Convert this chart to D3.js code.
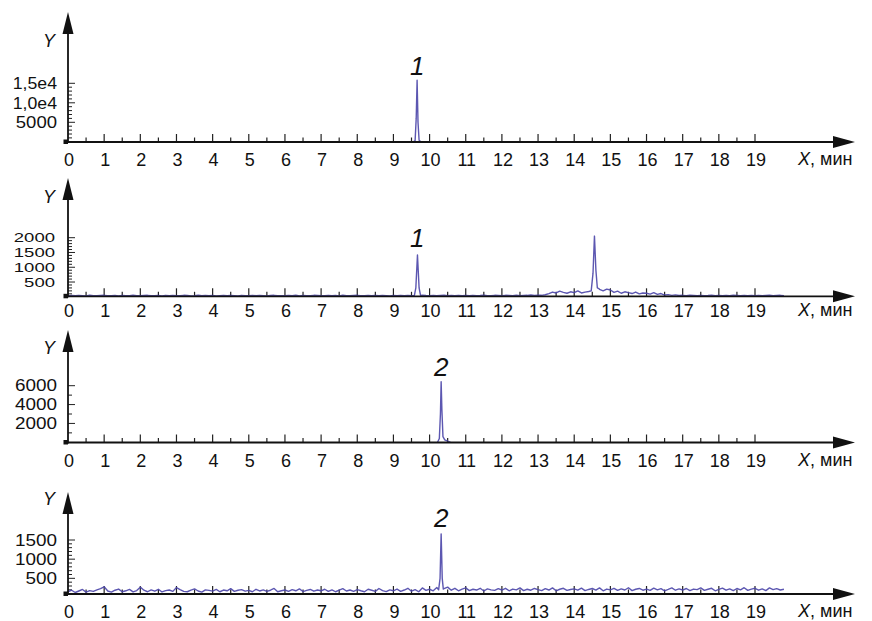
<!DOCTYPE html>
<html>
<head>
<meta charset="utf-8">
<script src="https://cdn.jsdelivr.net/npm/d3@7/dist/d3.min.js"></script>
<style>
html,body{margin:0;padding:0;background:#fff;}
svg{display:block;font-family:"Liberation Sans",Arial,sans-serif;}
</style>
</head>
<body>
<svg id="chart" width="872" height="621"></svg>
<script>
// ---------------- DATA ----------------
const xTickValues = [0,1,2,3,4,5,6,7,8,9,10,11,12,13,14,15,16,17,18,19];
const xAxisTitle = ", мин";
const xAxisTitleItalic = "X";
const yAxisTitle = "Y";

const p1TickValues = [5000, 10000, 15000];
const p1TickLabels = ["5000", "1,0e4", "1,5e4"];
const p2TickValues = [500, 1000, 1500, 2000];
const p2TickLabels = ["500", "1000", "1500", "2000"];
const p3TickValues = [2000, 4000, 6000];
const p3TickLabels = ["2000", "4000", "6000"];
const p4TickValues = [500, 1000, 1500];
const p4TickLabels = ["500", "1000", "1500"];

const peakLabels = ["1", "1", "2", "2"];
const peakTimes = [9.66, 9.66, 10.32, 10.32];

// sampled noise (one value per 0.1 min)
const sampleStep = 0.1;
const p2Noise = [
 30,45,35,50,40,30,55,40,35,45,
 50,35,40,45,30,50,40,35,55,40,
 35,45,50,40,35,45,30,50,40,45,
 40,35,50,45,30,40,55,35,45,40,
 45,30,40,50,35,45,40,30,50,35,
 40,50,35,45,40,30,45,50,35,40,
 35,45,40,55,30,45,40,35,50,45,
 40,35,50,40,45,30,55,40,35,45,
 50,40,35,45,40,50,35,45,40,30,
 45,40,50,35,45,40,50,60,55,45,
 40,50,35,45,55,40,45,35,50,40,
 45,35,50,40,45,55,35,40,50,45,
 40,50,45,35,55,40,45,50,60,45,
 55,50,70,110,160,130,190,150,120,170,
 140,200,130,160,180,300,300,250,200,260,
 230,150,190,120,170,140,110,160,100,130,
 120,90,140,80,110,60,75,50,65,45,
 50,40,55,45,35,50,40,45,55,40,
 45,35,50,40,55,45,35,50,40,45,
 40,50,35,45,55,40,45,50,35
];
const p4Noise = [
 150,190,130,170,210,140,180,160,200,230,
 280,170,140,190,220,150,175,210,145,180,
 270,190,150,200,165,215,145,180,195,160,
 260,205,160,150,190,225,170,140,200,185,
 165,210,150,195,175,230,160,190,205,165,
 185,150,215,170,200,160,190,235,150,175,
 195,160,205,175,225,155,185,210,165,195,
 175,215,160,200,150,190,230,170,195,160,
 205,175,150,215,190,160,235,180,155,200,
 175,220,160,195,240,165,205,150,250,185,
 215,175,260,200,230,270,190,240,175,220,
 250,180,215,195,240,170,225,200,185,230,
 195,240,175,220,200,250,180,215,190,235,
 205,180,230,195,250,175,215,240,185,210,
 225,190,245,180,210,235,195,250,175,220,
 200,240,185,225,195,255,180,215,235,190,
 220,185,245,200,230,175,210,250,190,225,
 195,235,180,220,205,250,185,215,240,175,
 210,245,190,225,180,235,200,255,185,220,
 240,190,225,180,250,205,230,195,215
];

// peaks as [time, value]
const p1Peak = [[9.55,0],[9.60,300],[9.63,6000],[9.655,15800],[9.68,5000],[9.71,400],[9.76,0]];
const p2Peak1 = [[9.58,50],[9.62,300],[9.665,1415],[9.71,300],[9.75,50]];
const p2Peak2 = [[14.47,200],[14.52,800],[14.56,2055],[14.60,900],[14.64,300],[14.68,280]];
const p3Peak = [[10.22,0],[10.27,400],[10.30,3000],[10.32,6420],[10.34,3500],[10.37,600],[10.42,250],[10.50,120],[10.58,0]];
const p4Peak = [[10.25,200],[10.29,500],[10.32,1660],[10.35,500],[10.38,220]];

// ---------------- LAYOUT ----------------
const svg = d3.select("#chart");
const x = d3.scaleLinear().domain([0, 19]).range([68, 755]);
const axisX0 = 68, arrowTipX = 855;
const traceColor = "#4a45a8";

function mergeSeries(noise, peaks) {
  let pts = noise ? noise.map((v, i) => [+(i * sampleStep).toFixed(2), v]) : [];
  peaks.forEach(pk => {
    const a = pk[0][0], b = pk[pk.length - 1][0];
    pts = pts.filter(p => p[0] < a || p[0] > b).concat(pk);
  });
  return pts.sort((p, q) => p[0] - q[0]);
}

const panels = [
  {axisY:142, tipY:12, zeroPx:141.8, refVal:15000, refPx:83.3, ticks:p1TickValues, labels:p1TickLabels,
   minorStep:1000, minorMax:15000, majorEvery:5000, yLabelBase:47, xLabelBase:166, peakBase:75,
   series:[mergeSeries(null, [p1Peak])], labelX:57, yFont:16, charW:10.3},
  {axisY:296.3, tipY:178, zeroPx:296.8, refVal:2000, refPx:237.7, ticks:p2TickValues, labels:p2TickLabels,
   minorStep:100, minorMax:2000, majorEvery:500, yLabelBase:203, xLabelBase:317, peakBase:247,
   series:[mergeSeries(p2Noise, [p2Peak1, p2Peak2])], labelX:55, yFont:13, charW:10.3},
  {axisY:442.5, tipY:330, zeroPx:442.3, refVal:6000, refPx:385.7, ticks:p3TickValues, labels:p3TickLabels,
   minorStep:1000, minorMax:6000, majorEvery:2000, yLabelBase:354, xLabelBase:467, peakBase:376,
   series:[mergeSeries(null, [p3Peak])], labelX:57, yFont:16, charW:10.5},
  {axisY:594, tipY:492, zeroPx:597.5, refVal:1500, refPx:540, ticks:p4TickValues, labels:p4TickLabels,
   minorStep:100, minorMax:1500, majorEvery:500, yLabelBase:505, xLabelBase:618, peakBase:527,
   series:[mergeSeries(p4Noise, [p4Peak])], labelX:57, yFont:16, charW:10.5}
];

panels.forEach((P, pi) => {
  const y = d3.scaleLinear().domain([0, P.refVal]).range([P.zeroPx, P.refPx]);
  const g = svg.append("g");

  // y minor / major ticks
  const minor = d3.range(P.minorStep, P.minorMax + 1, P.minorStep);
  g.selectAll(".ymin").data(minor).join("line")
    .attr("x1", axisX0).attr("x2", d => axisX0 + (d % P.majorEvery === 0 ? 7 : 4))
    .attr("y1", d => y(d)).attr("y2", d => y(d))
    .attr("stroke", "#222").attr("stroke-width", 1);

  // x ticks
  const xMajor = xTickValues.filter(d => d > 0);
  const xMinor = d3.range(0.5, 19, 1);
  g.selectAll(".xmaj").data(xMajor).join("line")
    .attr("x1", d => x(d)).attr("x2", d => x(d))
    .attr("y1", P.axisY).attr("y2", P.axisY - 8)
    .attr("stroke", "#222").attr("stroke-width", 1.2);
  g.selectAll(".xmin").data(xMinor).join("line")
    .attr("x1", d => x(d)).attr("x2", d => x(d))
    .attr("y1", P.axisY).attr("y2", P.axisY - 4.5)
    .attr("stroke", "#222").attr("stroke-width", 1.2);

  // trace
  const line = d3.line().x(d => x(d[0])).y(d => y(d[1]));
  P.series.forEach(s => {
    g.append("path").datum(s).attr("d", line)
      .attr("fill", "none").attr("stroke", traceColor)
      .attr("stroke-width", 1.4).attr("stroke-linejoin", "round").attr("opacity", 0.9);
  });

  // axes lines
  g.append("line").attr("x1", axisX0).attr("x2", arrowTipX - 18)
    .attr("y1", P.axisY).attr("y2", P.axisY).attr("stroke", "#111").attr("stroke-width", 1.8);
  g.append("path")
    .attr("d", `M${arrowTipX},${P.axisY} L${arrowTipX - 22},${P.axisY - 6} L${arrowTipX - 22},${P.axisY + 6} Z`)
    .attr("fill", "#111");
  g.append("line").attr("x1", axisX0).attr("x2", axisX0)
    .attr("y1", P.axisY + 1).attr("y2", P.tipY + 18).attr("stroke", "#111").attr("stroke-width", 1.8);
  g.append("path")
    .attr("d", `M${axisX0},${P.tipY} L${axisX0 - 5.5},${P.tipY + 22} L${axisX0 + 5.5},${P.tipY + 22} Z`)
    .attr("fill", "#111");
  g.append("rect").attr("x", axisX0 - 4.5).attr("y", P.axisY - 2.5)
    .attr("width", 4.5).attr("height", 4.5).attr("fill", "#111");

  // y tick labels (stretched horizontally like the reference)
  g.selectAll(".ylab").data(P.ticks).join("text")
    .attr("x", P.labelX).attr("y", d => y(d))
    .attr("dy", "0.36em").attr("text-anchor", "end")
    .attr("font-size", P.yFont).attr("fill", "#111")
    .attr("textLength", (d, i) => P.labels[i].replace(",", "").length * P.charW + (P.labels[i].includes(",") ? 3 : 0))
    .attr("lengthAdjust", "spacingAndGlyphs")
    .text((d, i) => P.labels[i]);

  // x tick labels
  g.selectAll(".xlab").data(xTickValues).join("text")
    .attr("x", d => x(d) + 1).attr("y", P.xLabelBase)
    .attr("text-anchor", "middle").attr("font-size", 18).attr("fill", "#111")
    .text(d => d);

  // X title
  const xt = g.append("text").attr("x", 798).attr("y", P.xLabelBase - 1)
    .attr("font-size", 18).attr("fill", "#111");
  xt.append("tspan").attr("font-style", "italic").text(xAxisTitleItalic);
  xt.append("tspan").text(xAxisTitle);

  // Y title
  g.append("text").attr("x", 49).attr("y", P.yLabelBase)
    .attr("text-anchor", "middle").attr("font-size", 18).attr("font-style", "italic")
    .attr("fill", "#111").text(yAxisTitle);

  // peak label
  g.append("text").attr("x", x(peakTimes[pi])).attr("y", P.peakBase)
    .attr("text-anchor", "middle").attr("font-size", 26).attr("font-style", "italic")
    .attr("fill", "#111").text(peakLabels[pi]);
});
</script>
</body>
</html>
